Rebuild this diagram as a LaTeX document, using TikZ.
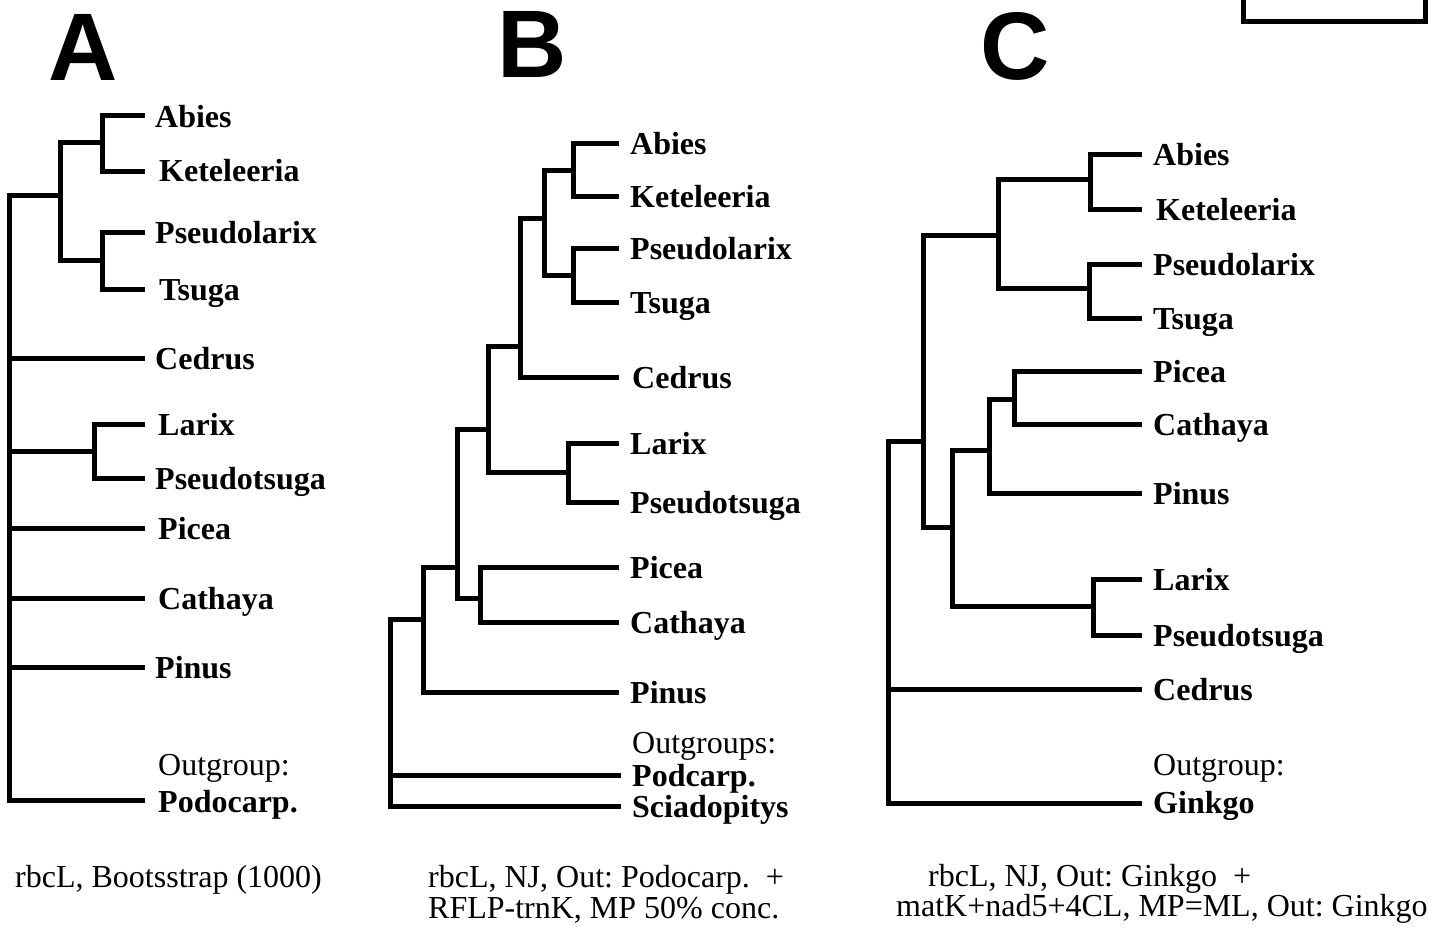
\documentclass[tikz,border=0pt]{standalone}
\usepackage{fontspec}
\setmainfont{Liberation Serif}
\newfontfamily\panelfont{Liberation Sans}
\usetikzlibrary{positioning}
\frenchspacing

\begin{document}
\begin{tikzpicture}[
    x=1pt, y=-1pt,
    branch/.style={line width=5pt, line join=miter},
    taxon/.style={anchor=base west, inner sep=0pt, font=\fontsize{32}{36}\selectfont\bfseries},
    outlabel/.style={anchor=base west, inner sep=0pt, font=\fontsize{32}{36}\selectfont},
    caption/.style={anchor=base west, inner sep=0pt, font=\fontsize{32}{36}\selectfont},
    panel/.style={anchor=base west, inner sep=0pt, font=\panelfont\fontsize{96}{100}\selectfont\bfseries}
    ]
    \useasboundingbox (0,0) rectangle (1443,932);
    \clip (0,0) rectangle (1443,932);

    %panel letters
    \node[panel] (letterA) at (48,80) {A};
    \node[panel] (letterB) at (497,77) {B};
    \node[panel] (letterC) at (980,79) {C};
    \draw[line width=5pt] (1243.5,-40) rectangle (1425.5,21.5);

    %first tree
    \coordinate (a-abies) at (145,115);
    \coordinate (a-ketel) at (145,171);
    \coordinate (a-pseudol) at (145,232);
    \coordinate (a-tsuga) at (145,289);
    \coordinate (a-cedrus) at (145,358);
    \coordinate (a-larix) at (145,424);
    \coordinate (a-pseudots) at (145,478);
    \coordinate (a-picea) at (145,528);
    \coordinate (a-cathaya) at (145,598);
    \coordinate (a-pinus) at (145,667);
    \coordinate (a-podo) at (145,800);
    \coordinate (a-ak) at (102,142);
    \coordinate (a-pt) at (102,260);
    \coordinate (a-akpt) at (60,195);
    \coordinate (a-lp) at (94,451);
    \coordinate (a-root) at (9,800);

    \draw[branch] (a-abies) -| (a-ak) |- (a-ketel);
    \draw[branch] (a-pseudol) -| (a-pt) |- (a-tsuga);
    \draw[branch] (a-ak) -| (a-akpt) |- (a-pt);
    \draw[branch] (a-larix) -| (a-lp) |- (a-pseudots);
    \draw[branch] (a-akpt) -| (a-root) |- (a-podo);
    \draw[branch] (a-root |- a-cedrus) -- (a-cedrus);
    \draw[branch] (a-root |- a-lp) -- (a-lp);
    \draw[branch] (a-root |- a-picea) -- (a-picea);
    \draw[branch] (a-root |- a-cathaya) -- (a-cathaya);
    \draw[branch] (a-root |- a-pinus) -- (a-pinus);

    \node[taxon] (tA-abies) at (155,127) {Abies};
    \node[taxon] (tA-ketel) at (159,181) {Keteleeria};
    \node[taxon] (tA-pseudol) at (155,243) {Pseudolarix};
    \node[taxon] (tA-tsuga) at (159,300) {Tsuga};
    \node[taxon] (tA-cedrus) at (155,369) {Cedrus};
    \node[taxon] (tA-larix) at (158,435) {Larix};
    \node[taxon] (tA-pseudots) at (155,489) {Pseudotsuga};
    \node[taxon] (tA-picea) at (158,539) {Picea};
    \node[taxon] (tA-cathaya) at (158,609) {Cathaya};
    \node[taxon] (tA-pinus) at (155,678) {Pinus};
    \node[outlabel] (oA) at (158,775) {Outgroup:};
    \node[taxon] (tA-podo) at (158,812) {Podocarp.};

    %second tree
    \coordinate (b-abies) at (619,143);
    \coordinate (b-ketel) at (619,196);
    \coordinate (b-pseudol) at (619,248);
    \coordinate (b-tsuga) at (619,302);
    \coordinate (b-cedrus) at (619,377);
    \coordinate (b-larix) at (619,443);
    \coordinate (b-pseudots) at (619,502);
    \coordinate (b-picea) at (619,567);
    \coordinate (b-cathaya) at (619,622);
    \coordinate (b-pinus) at (619,692);
    \coordinate (b-podc) at (621,775);
    \coordinate (b-sciad) at (621,806);
    \coordinate (b-ak) at (573,170);
    \coordinate (b-pt) at (573,275);
    \coordinate (b-akpt) at (544,218);
    \coordinate (b-ce) at (520,346);
    \coordinate (b-lp) at (568,472);
    \coordinate (b-x) at (488,429);
    \coordinate (b-pc) at (480,598);
    \coordinate (b-y) at (457,567);
    \coordinate (b-z) at (423,619);
    \coordinate (b-root) at (390,806);

    \draw[branch] (b-abies) -| (b-ak) |- (b-ketel);
    \draw[branch] (b-pseudol) -| (b-pt) |- (b-tsuga);
    \draw[branch] (b-ak) -| (b-akpt) |- (b-pt);
    \draw[branch] (b-akpt) -| (b-ce) |- (b-cedrus);
    \draw[branch] (b-larix) -| (b-lp) |- (b-pseudots);
    \draw[branch] (b-ce) -| (b-x) |- (b-lp);
    \draw[branch] (b-picea) -| (b-pc) |- (b-cathaya);
    \draw[branch] (b-x) -| (b-y) |- (b-pc);
    \draw[branch] (b-y) -| (b-z) |- (b-pinus);
    \draw[branch] (b-z) -| (b-root) |- (b-sciad);
    \draw[branch] (b-root |- b-podc) -- (b-podc);

    \node[taxon] (tB-abies) at (630,154) {Abies};
    \node[taxon] (tB-ketel) at (630,207) {Keteleeria};
    \node[taxon] (tB-pseudol) at (630,259) {Pseudolarix};
    \node[taxon] (tB-tsuga) at (630,313) {Tsuga};
    \node[taxon] (tB-cedrus) at (632,388) {Cedrus};
    \node[taxon] (tB-larix) at (630,454) {Larix};
    \node[taxon] (tB-pseudots) at (630,513) {Pseudotsuga};
    \node[taxon] (tB-picea) at (630,578) {Picea};
    \node[taxon] (tB-cathaya) at (630,633) {Cathaya};
    \node[taxon] (tB-pinus) at (630,703) {Pinus};
    \node[outlabel] (oB) at (632,753) {Outgroups:};
    \node[taxon] (tB-podc) at (632,786) {Podcarp.};
    \node[taxon] (tB-sciad) at (632,817) {Sciadopitys};

    %third tree
    \coordinate (c-abies) at (1142,154);
    \coordinate (c-ketel) at (1142,209);
    \coordinate (c-pseudol) at (1142,264);
    \coordinate (c-tsuga) at (1142,318);
    \coordinate (c-picea) at (1142,371);
    \coordinate (c-cathaya) at (1142,424);
    \coordinate (c-pinus) at (1142,493);
    \coordinate (c-larix) at (1142,579);
    \coordinate (c-pseudots) at (1142,635);
    \coordinate (c-cedrus) at (1142,689);
    \coordinate (c-ginkgo) at (1142,803);
    \coordinate (c-ak) at (1090,179);
    \coordinate (c-pt) at (1089,288);
    \coordinate (c-akpt) at (998,235);
    \coordinate (c-pc) at (1014,399);
    \coordinate (c-pcp) at (989,450);
    \coordinate (c-lp) at (1093,606);
    \coordinate (c-pl) at (952,527);
    \coordinate (c-in) at (923,441);
    \coordinate (c-root) at (888,803);

    \draw[branch] (c-abies) -| (c-ak) |- (c-ketel);
    \draw[branch] (c-pseudol) -| (c-pt) |- (c-tsuga);
    \draw[branch] (c-ak) -| (c-akpt) |- (c-pt);
    \draw[branch] (c-picea) -| (c-pc) |- (c-cathaya);
    \draw[branch] (c-pc) -| (c-pcp) |- (c-pinus);
    \draw[branch] (c-larix) -| (c-lp) |- (c-pseudots);
    \draw[branch] (c-pcp) -| (c-pl) |- (c-lp);
    \draw[branch] (c-akpt) -| (c-in) |- (c-pl);
    \draw[branch] (c-in) -| (c-root) |- (c-ginkgo);
    \draw[branch] (c-root |- c-cedrus) -- (c-cedrus);

    \node[taxon] (tC-abies) at (1153,165) {Abies};
    \node[taxon] (tC-ketel) at (1156,220) {Keteleeria};
    \node[taxon] (tC-pseudol) at (1153,275) {Pseudolarix};
    \node[taxon] (tC-tsuga) at (1153,329) {Tsuga};
    \node[taxon] (tC-picea) at (1153,382) {Picea};
    \node[taxon] (tC-cathaya) at (1153,435) {Cathaya};
    \node[taxon] (tC-pinus) at (1153,504) {Pinus};
    \node[taxon] (tC-larix) at (1153,590) {Larix};
    \node[taxon] (tC-pseudots) at (1153,646) {Pseudotsuga};
    \node[taxon] (tC-cedrus) at (1153,700) {Cedrus};
    \node[outlabel] (oC) at (1153,775) {Outgroup:};
    \node[taxon] (tC-ginkgo) at (1153,813) {Ginkgo};

    %captions
    \node[caption] (capA) at (15,887) {rbcL, Bootsstrap (1000)};
    \node[caption] (capB1) at (428,887) {rbcL, NJ, Out: Podocarp.\ \ +};
    \node[caption] (capB2) at (428,918) {RFLP-trnK, MP 50\% conc.};
    \node[caption] (capC1) at (928,886) {rbcL, NJ, Out: Ginkgo\ \ +};
    \node[caption] (capC2) at (896,916) {matK+nad5+4CL, MP=ML, Out: Ginkgo};
\end{tikzpicture}
\end{document}
